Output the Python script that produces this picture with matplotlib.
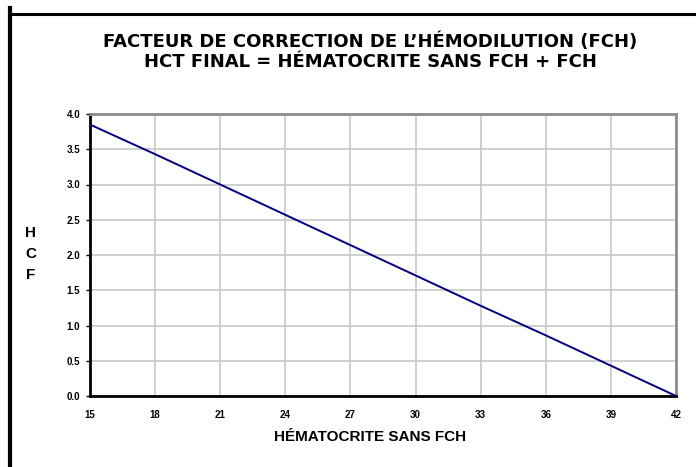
import matplotlib
matplotlib.use("Agg")
import matplotlib.pyplot as plt
from matplotlib.lines import Line2D

plt.rcParams['font.family'] = ['Liberation Sans', 'DejaVu Sans']

hematocrite = [15, 18, 21, 24, 27, 30, 33, 36, 39, 42]
fch = [3.85, 3.43, 3.00, 2.57, 2.14, 1.71, 1.28, 0.86, 0.43, 0.00]
x_ticks = [15, 18, 21, 24, 27, 30, 33, 36, 39, 42]
y_ticks = [0.0, 0.5, 1.0, 1.5, 2.0, 2.5, 3.0, 3.5, 4.0]

W, H = 696, 467
fig = plt.figure(figsize=(W / 100, H / 100), dpi=100)
ax = fig.add_axes([90 / W, 1 - 396 / H, (676 - 90) / W, (396 - 114) / H])

ax.plot(hematocrite, fch, color='#000080', lw=1.4, zorder=3)

ax.set_xlim(15, 42)
ax.set_ylim(0, 4.0)
ax.set_xticks(x_ticks)
ax.set_yticks(y_ticks)
ax.set_xticklabels([str(v) for v in x_ticks], fontsize=7, fontweight='bold')
ax.set_yticklabels([f"{v:.1f}" for v in y_ticks], fontsize=7, fontweight='bold')
ax.tick_params(axis='y', length=3, width=1, pad=4, color='black')
ax.tick_params(axis='x', length=0, pad=10)
ax.grid(True, color='#c8c8c8', lw=1.2)
ax.set_axisbelow(True)

for side in ('left', 'bottom'):
    ax.spines[side].set_color('black')
    ax.spines[side].set_linewidth(2)
for side in ('top', 'right'):
    ax.spines[side].set_color('#8c8c8c')
    ax.spines[side].set_linewidth(2)

title_font = dict(family=['DejaVu Sans'], fontsize=13, fontweight='bold')
fig.text(370 / W, 1 - 42 / H, "FACTEUR DE CORRECTION DE L\u2019H\u00c9MODILUTION (FCH)",
         ha='center', va='center', **title_font)
fig.text(370 / W, 1 - 62 / H, "HCT FINAL = H\u00c9MATOCRITE SANS FCH + FCH",
         ha='center', va='center', **title_font)
fig.text(370 / W, 1 - 437 / H, "H\u00c9MATOCRITE SANS FCH",
         ha='center', va='center', fontsize=11, fontweight='bold')
fig.text(31 / W, 1 - 254 / H, "H\nC\nF", ha='center', va='center',
         fontsize=11, fontweight='bold', linespacing=1.6)

# frame lines on the left and top of the chart area
fig.add_artist(Line2D([9.5 / W, 9.5 / W], [0, 1 - 8 / H], color='black', lw=3,
                      transform=fig.transFigure))
fig.add_artist(Line2D([10 / W, 1], [1 - 14 / H, 1 - 14 / H], color='black', lw=2.2,
                      transform=fig.transFigure))

fig.savefig("out.png", dpi=100)
